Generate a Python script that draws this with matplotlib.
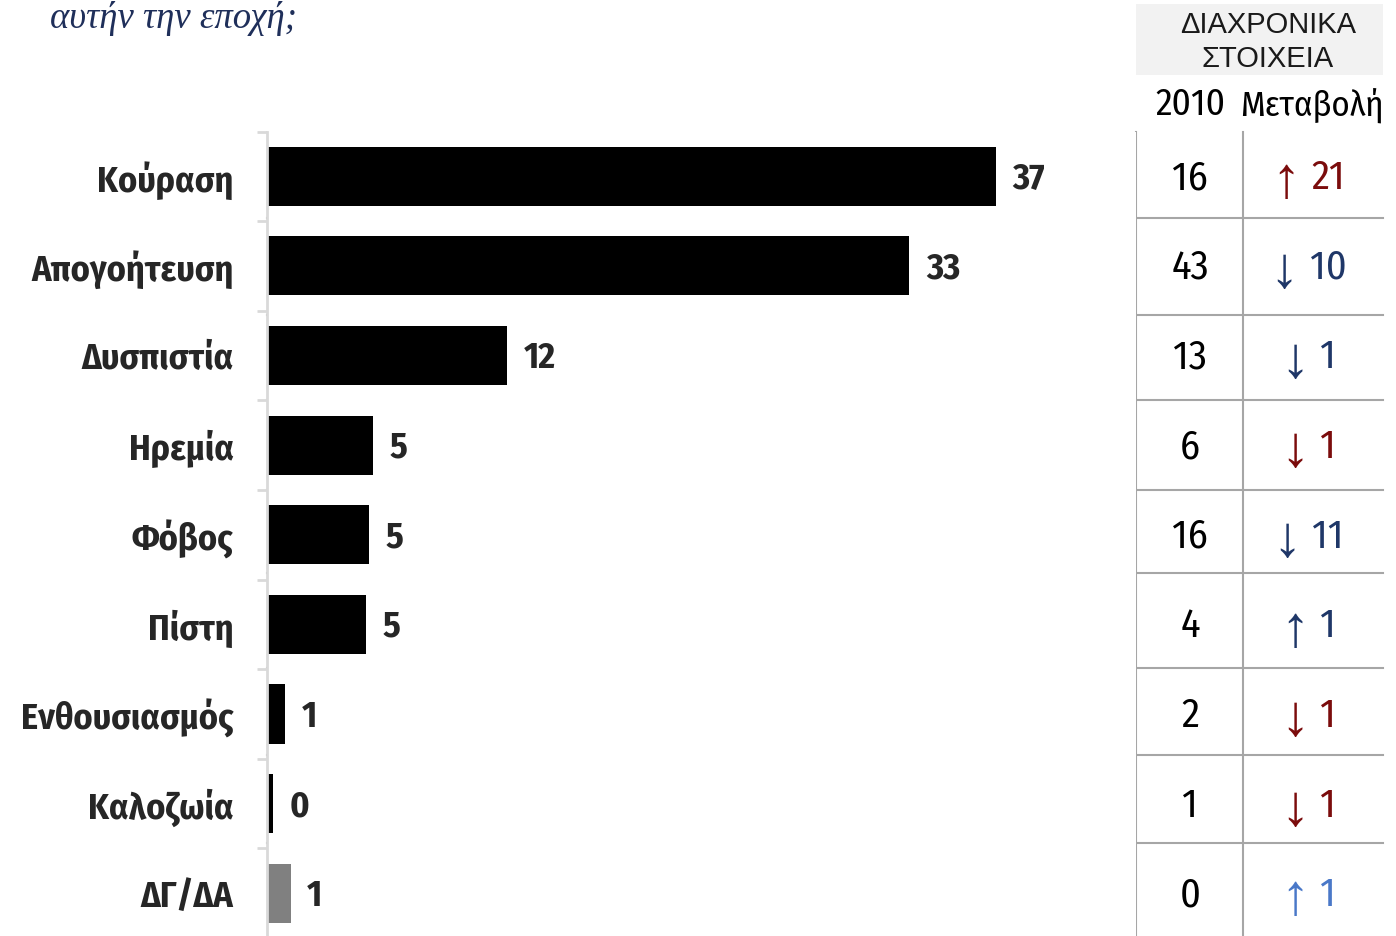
import matplotlib.pyplot as plt
from matplotlib.transforms import blended_transform_factory, ScaledTranslation

categories = ['Κούραση', 'Απογοήτευση', 'Δυσπιστία', 'Ηρεμία', 'Φόβος',
              'Πίστη', 'Ενθουσιασμός', 'Καλοζωία', 'ΔΓ/ΔΑ']
values = [37.0, 32.6, 12.2, 5.4, 5.2, 5.0, 0.9, 0.3, 1.2]
values_2010 = [16, 43, 13, 6, 16, 4, 2, 1, 0]
changes = [21, -10, -1, -1, -11, 1, -1, -1, 1]
change_colors = ['#7b0c0c', '#1f3768', '#1f3768', '#7b0c0c', '#1f3768',
                 '#1f3768', '#7b0c0c', '#7b0c0c', '#4a78c8']
bar_colors = ['black'] * 8 + ['#808080']

W, H = 1396, 936
narrow = ['Fira Sans Condensed', 'DejaVu Sans']
arial = ['Liberation Sans', 'DejaVu Sans']

fig = plt.figure(figsize=(W / 100, H / 100), dpi=100)

# overlay in pixel coordinates for the table frame
over = fig.add_axes([0, 0, 1, 1])
over.set_xlim(0, W)
over.set_ylim(H, 0)
over.axis('off')

ax = fig.add_axes([267 / W, (H - 938) / H, (1136 - 267) / W, (938 - 131.5) / H])
ypos = list(range(len(categories)))
ax.barh(ypos, values, height=0.66, color=bar_colors)
ax.set_xlim(0, (1136 - 267) / 19.7)
ax.set_ylim(len(categories) - 0.5, -0.5)

for y, v in zip(ypos, values):
    ax.annotate(str(round(v)), (v, y), xytext=(12, -2), textcoords='offset points',
                va='center', ha='left', fontsize=26, fontweight='bold', stretch='condensed',
                family=narrow, color='#262626')

ax.set_yticks(ypos)
ax.set_yticklabels(categories, fontsize=26, fontweight='bold', family=narrow,
                   stretch='condensed', color='#262626')
up = ScaledTranslation(0, 3 / 100, fig.dpi_scale_trans)
for lab in ax.get_yticklabels():
    lab.set_transform(lab.get_transform() + up)
ax.set_yticks([y - 0.5 for y in ypos], minor=True)
ax.tick_params(axis='y', which='major', length=0, pad=24)
ax.tick_params(axis='y', which='minor', length=7, width=2, color='#d9d9d9')
ax.set_xticks([])
for s in ['top', 'right', 'bottom']:
    ax.spines[s].set_visible(False)
ax.spines['left'].set_color('#d9d9d9')
ax.spines['left'].set_linewidth(2)

# table
row_lines = [218, 315, 400, 490, 573, 668, 755, 843]
for yl in row_lines:
    over.plot([267, 1383], [yl, yl], color='#a6a6a6', lw=1.5)
for xl in [1136, 1243]:
    over.plot([xl, xl], [132, H], color='#a6a6a6', lw=1.5)
over.add_patch(plt.Rectangle((1136, 4), 247, 71, color='#f2f2f2', lw=0))
over.text(1268, 42, 'ΔΙΑΧΡΟΝΙΚΑ\nΣΤΟΙΧΕΙΑ', ha='center', va='center',
          fontsize=21, family=arial, color='#1a1a1a', linespacing=1.25)
over.text(1190, 105, '2010', ha='center', va='center', fontsize=27, family=narrow,
          stretch='condensed', color='black')
over.text(1312, 105, 'Μεταβολή', ha='center', va='center', fontsize=25, family=narrow,
          stretch='condensed', color='black')

tr = blended_transform_factory(over.transData, ax.transData)
down = ScaledTranslation(0, -2 / 100, fig.dpi_scale_trans)
for y, v10, ch, c in zip(ypos, values_2010, changes, change_colors):
    ax.text(1190, y, str(v10), transform=tr + down, ha='center', va='center',
            fontsize=29, family=narrow, stretch='condensed', color='black')
    num = ax.text(1328, y, str(abs(ch)), transform=tr + down, ha='center', va='center',
                  fontsize=29, family=narrow, stretch='condensed', color=c)
    arrow = '↑' if ch > 0 else '↓'
    ax.annotate(arrow, xy=(0, 0.5), xycoords=num, xytext=(-8, -3), textcoords='offset points',
                ha='right', va='center', fontsize=42, family=arial, color=c)

fig.text(50 / W, 1 - 28 / H, 'αυτήν την εποχή;', fontsize=26.5, style='italic',
         family=['Liberation Serif', 'DejaVu Serif'], color='#1f2f5a', va='baseline')

fig.savefig('out.png', dpi=100)
